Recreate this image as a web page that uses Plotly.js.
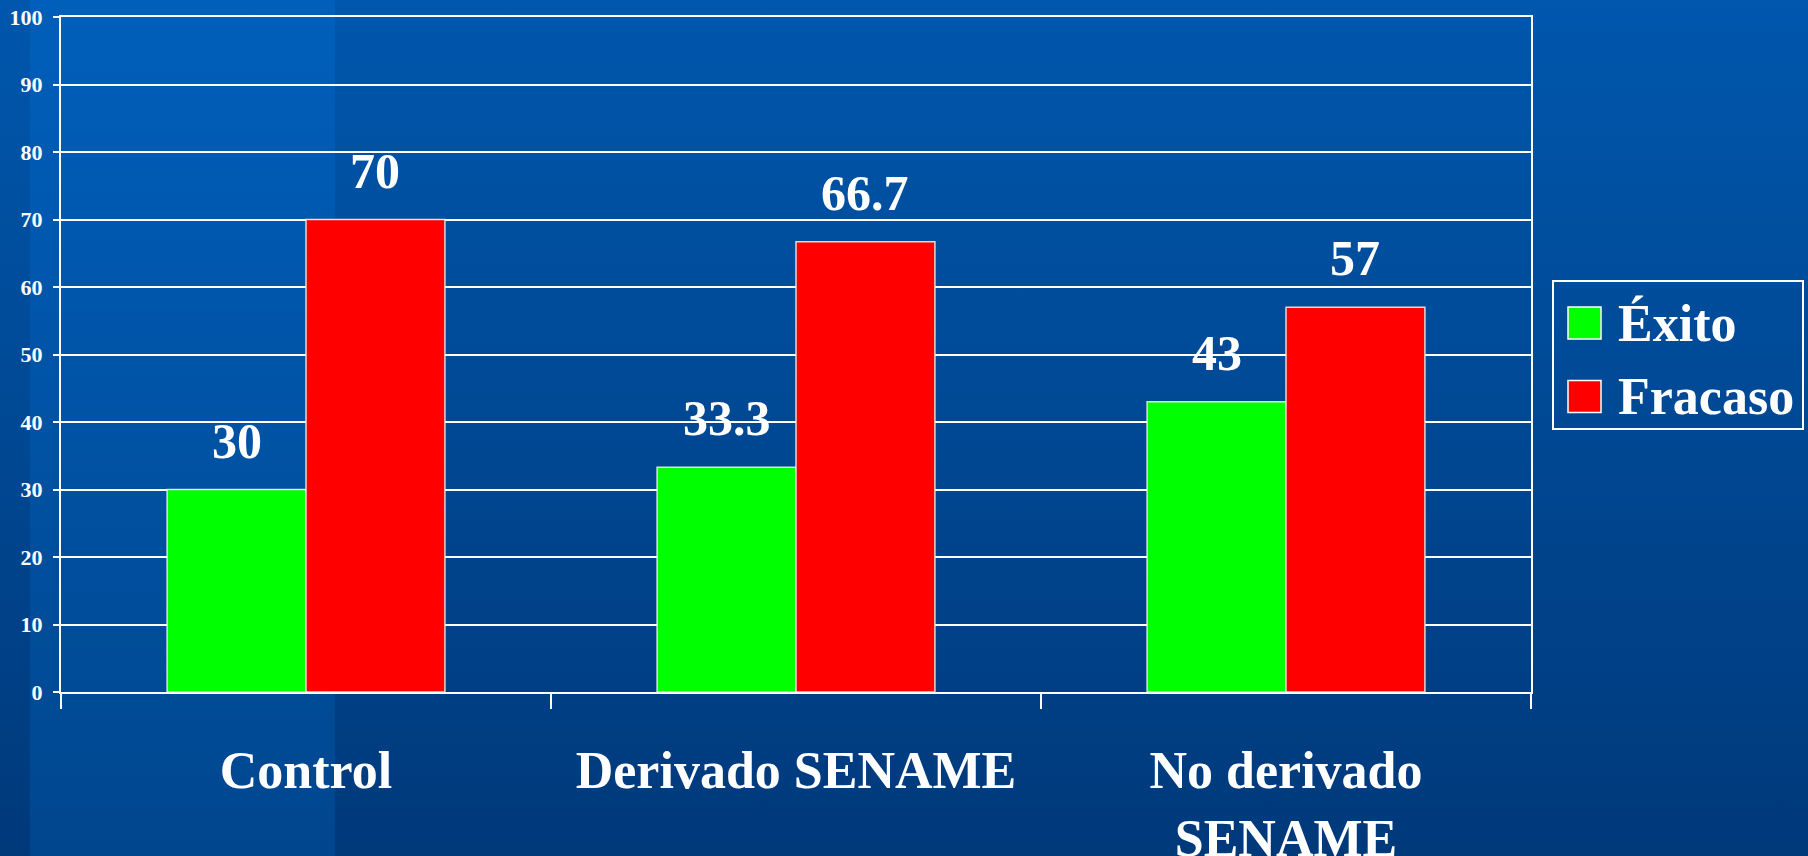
<!DOCTYPE html>
<html>
<head>
<meta charset="utf-8">
<script src="https://cdn.plot.ly/plotly-3.0.1.min.js"></script>
<style>
  html, body { margin: 0; padding: 0; }
  #chart {
    width: 1808px; height: 856px;
    background:
      linear-gradient(to bottom, #005fbb, #00468e) 30px 0 / 305px 100% no-repeat,
      linear-gradient(to bottom, #0057ad, #00397a);
  }
</style>
</head>
<body>
<div id="chart"></div>
<script>
// ---- data ----
const categories = ["Control", "Derivado SENAME", "No derivado<br>SENAME"];
const seriesNames = ["Éxito", "Fracaso"];
const exitoValues = [30, 33.3, 43];
const fracasoValues = [70, 66.7, 57];
const seriesColors = ["#00ff00", "#ff0000"];
const yTickValues = [0, 10, 20, 30, 40, 50, 60, 70, 80, 90, 100];

const FONT = '"Liberation Serif", "Times New Roman", serif';
const W = 1808, H = 856;
const margin = { l: 61, r: 277, t: 17, b: 164 };
const bargap = 0.433;
const plotW = W - margin.l - margin.r;
const plotH = H - margin.t - margin.b;
const barPx = plotW / categories.length * (1 - bargap) / 2;

const seriesValues = [exitoValues, fracasoValues];

const traces = seriesValues.map((vals, i) => ({
  type: 'bar',
  name: seriesNames[i],
  x: categories,
  y: vals,
  marker: { color: seriesColors[i], line: { color: 'rgba(235,235,235,0.9)', width: 1.5 } },
  hoverinfo: 'x+y+name',
  showlegend: false
}));

const annotations = [];
seriesValues.forEach((vals, i) => {
  vals.forEach((v, j) => {
    annotations.push({
      x: categories[j], y: v, xref: 'x', yref: 'y',
      text: String(v),
      showarrow: false,
      xanchor: 'center', yanchor: 'bottom',
      xshift: (i === 0 ? -1 : 1) * barPx / 2,
      yshift: 19,
      font: { family: FONT, size: 50, color: '#ffffff', weight: 'bold' }
    });
  });
});

// custom legend (large swatches)
const legX0 = 1553, legX1 = 1803, legY0 = 281, legY1 = 429;
const px2x = p => (p - margin.l) / plotW;
const py2y = p => (H - margin.b - p) / plotH;
const shapes = [{
  type: 'rect', xref: 'paper', yref: 'paper',
  x0: px2x(legX0), x1: px2x(legX1), y0: py2y(legY1), y1: py2y(legY0),
  line: { color: '#ffffff', width: 2 }, fillcolor: 'rgba(0,0,0,0)'
}];
const swatchCenters = [323, 396.5];
seriesNames.forEach((name, i) => {
  const cy = swatchCenters[i];
  shapes.push({
    type: 'rect', xref: 'paper', yref: 'paper',
    x0: px2x(1568), x1: px2x(1601), y0: py2y(cy + 16), y1: py2y(cy - 16),
    line: { color: '#ffffff', width: 1.5 }, fillcolor: seriesColors[i]
  });
  annotations.push({
    xref: 'paper', yref: 'paper', x: px2x(1616), y: py2y(cy),
    xanchor: 'left', yanchor: 'middle', showarrow: false,
    text: name,
    font: { family: FONT, size: 52, color: '#ffffff', weight: 'bold' }
  });
});

const layout = {
  width: W, height: H,
  margin: margin,
  paper_bgcolor: 'rgba(0,0,0,0)',
  plot_bgcolor: 'rgba(0,0,0,0)',
  barmode: 'group',
  bargap: bargap,
  bargroupgap: 0,
  showlegend: false,
  xaxis: {
    type: 'category',
    tickson: 'boundaries',
    ticks: 'outside', ticklen: 15, tickwidth: 2, tickcolor: '#ffffff',
    showline: true, linecolor: '#ffffff', linewidth: 2, mirror: true,
    showgrid: false,
    ticklabelstandoff: 32,
    tickfont: { family: FONT, size: 52, color: '#ffffff', weight: 'bold' }
  },
  yaxis: {
    range: [0, 100],
    tickvals: yTickValues,
    ticks: 'outside', ticklen: 6, tickwidth: 2, tickcolor: '#ffffff',
    showline: true, linecolor: '#ffffff', linewidth: 2, mirror: true,
    showgrid: true, gridcolor: '#ffffff', gridwidth: 2,
    zeroline: false,
    ticklabelstandoff: 6,
    tickfont: { family: FONT, size: 22, color: '#ffffff', weight: 'bold' }
  },
  annotations: annotations,
  shapes: shapes
};

Plotly.newPlot('chart', traces, layout, { displayModeBar: false, staticPlot: true });
</script>
</body>
</html>
